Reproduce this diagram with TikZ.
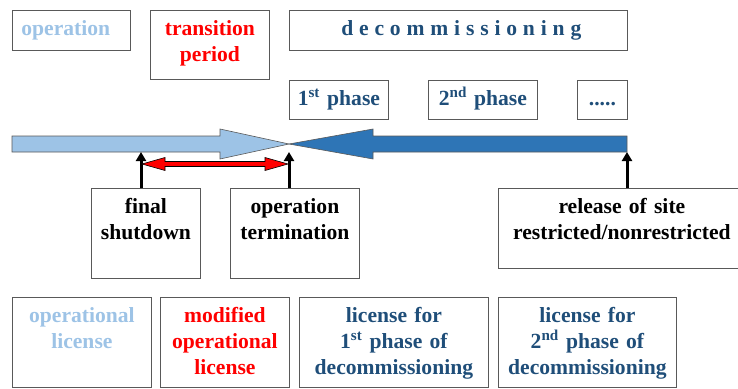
\documentclass[tikz,border=0pt]{standalone}
\usepackage{fontspec}
\setmainfont{Liberation Serif}
\usepackage{tikz}
\usetikzlibrary{arrows.meta}
\definecolor{opblue}{HTML}{9DC3E6}
\definecolor{decblue}{HTML}{1F4E79}
\definecolor{arrblue}{HTML}{2E75B6}
\definecolor{boxgray}{HTML}{595959}
\newcommand{\boxfont}{\fontsize{21.6}{26}\selectfont\bfseries}
\tikzset{
  box/.style={draw=boxgray, line width=0.8pt, anchor=north west, inner xsep=2pt, inner ysep=0pt,
    align=center, text height=25pt, font=\boxfont},
  opbox/.style={box, text=opblue},
  trbox/.style={box, text=red},
  decbox/.style={box, text=decblue},
  evbox/.style={box, text=black},
  bar/.style={draw=boxgray, line width=0.6pt},
  uparr/.style={draw=black, line width=3pt, -{Triangle[length=9pt,width=10pt]}},
  redarr/.style={draw=black, line width=0.6pt, fill=red}
}
\begin{document}
\begin{tikzpicture}[x=1pt, y=-1pt]
  \useasboundingbox (0,0) rectangle (738,388);

  % Phases
  \node[opbox, text width=100pt, align=left, inner xsep=9pt, text depth=15pt] (op) at (12,10) {operation};
  \node[trbox, text width=115pt, text depth=44pt] (trans) at (150,10) {transition\\period};
  \node[decbox, text width=334pt, text depth=15pt] (decom) at (289,10)
    {\hspace*{5.8pt}\addfontfeature{LetterSpace=27}decommissioning};
  \node[decbox, text width=95pt, text depth=14pt] (ph1) at (289,80) {1\textsuperscript{st} phase};
  \node[decbox, text width=105pt, text depth=14pt] (ph2) at (428,80) {2\textsuperscript{nd} phase};
  \node[decbox, text width=46pt, text depth=14pt] (more) at (577,80) {.....};

  % Time axis
  \coordinate (shut) at (141,152);
  \coordinate (mid) at (289,144);
  \coordinate (rel) at (627,152);
  \draw[bar, fill=opblue] (12,136) -- (220,136) -- (220,129) -- (mid) -- (220,159) -- (220,152) -- (12,152) -- cycle;
  \draw[bar, fill=arrblue] (mid) -- (373,129) -- (373,136) -- (627,136) -- (627,152) -- (373,152) -- (373,159) -- cycle;

  % Events
  \node[evbox, text width=105pt, text depth=65pt] (fs) at (91,188) {final\\shutdown};
  \node[evbox, text width=125pt, text depth=65pt] (ot) at (230,188) {operation\\termination};
  \node[evbox, text width=243pt, text depth=55pt] (rs) at (498,188) {release of site\\restricted/nonrestricted};

  \draw[uparr] (shut |- fs.north) -- (shut);
  \draw[uparr] (mid |- ot.north) -- (mid |- shut);
  \draw[uparr] (rel |- rs.north) -- (rel);

  % Transition period
  \draw[redarr] (142,164) -- (165,157.5) -- (165,161.5) -- (265,161.5) -- (265,157.5) -- (288,164)
    -- (265,170.5) -- (265,166.5) -- (165,166.5) -- (165,170.5) -- cycle;

  % Licenses
  \node[opbox, text width=135pt, text depth=65pt] (oplic) at (12,297) {operational\\license};
  \node[trbox, text width=125pt, text depth=65pt] (modlic) at (160,297) {modified\\operational\\license};
  \node[decbox, text width=185pt, text depth=65pt] (lic1) at (299,297) {license for\\1\textsuperscript{st} phase of\\decommissioning};
  \node[decbox, text width=174pt, text depth=65pt] (lic2) at (498,297) {license for\\2\textsuperscript{nd} phase of\\decommissioning};
\end{tikzpicture}
\end{document}
